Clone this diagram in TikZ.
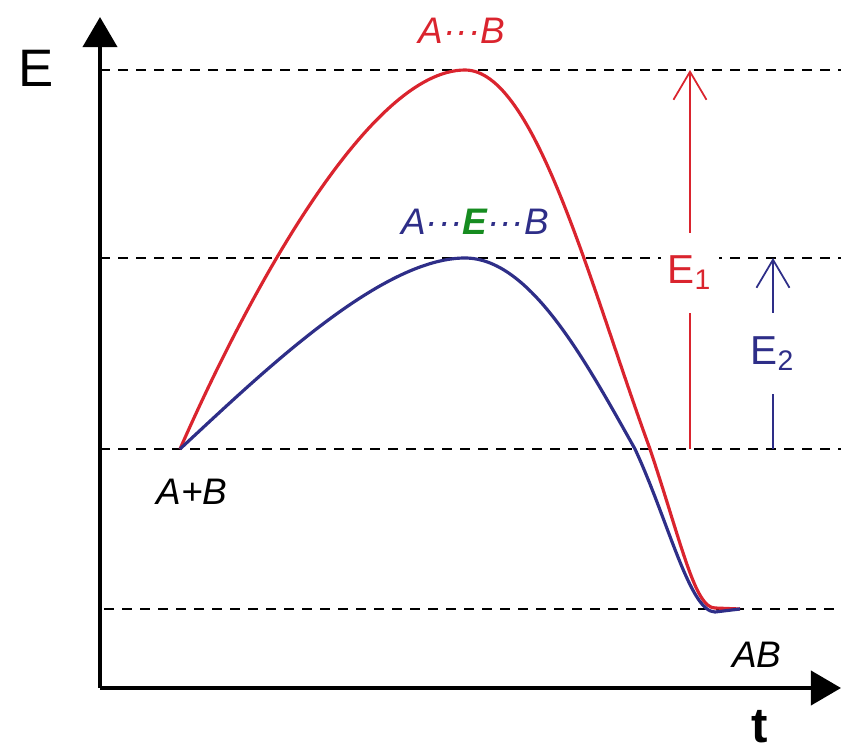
\documentclass[tikz,border=0pt]{standalone}
\usepackage{fontspec}
\setmainfont{Liberation Sans}
\usetikzlibrary{arrows.meta, positioning}
\definecolor{uncatred}{RGB}{218,36,46}
\definecolor{catblue}{RGB}{46,46,136}
\definecolor{catgreen}{RGB}{22,140,32}

\begin{document}
\begin{tikzpicture}[
        x=0.01cm, y=-0.01cm,
        axis/.style={line width=1.1pt, -{Triangle[length=0.3cm, width=0.34cm]}},
        level/.style={dash pattern=on 0.1cm off 0.08cm, line width=0.6pt},
        curve/.style={line width=0.9pt, line join=round},
        barrier/.style={-{Straight Barb[length=0.28cm, width=0.33cm]}, line width=0.5pt},
        species/.style={font=\fontsize{10.5}{12}\selectfont\itshape, inner sep=1pt},
        gaplabel/.style={fill=white, font=\fontsize{11.5}{13}\selectfont, inner xsep=2pt, inner ysep=0.23cm},
        axislabel/.style={font=\fontsize{15}{18}\selectfont, inner sep=1pt}
    ]
    \useasboundingbox (0,0) rectangle (841,751);

    % Axes
    \coordinate (origin) at (100,688);
    \coordinate (ytip) at (100,17);
    \coordinate (xtip) at (841,688);
    \draw[axis] (origin) -- (ytip);
    \draw[axis] (origin) -- (xtip);
    \node[axislabel] (elabel) at (36,68) {E};
    \node[axislabel, font=\fontsize{14}{16}\selectfont\bfseries] (tlabel) at (760,727) {t};

    % Energy levels
    \coordinate (peakAL) at (100,70);   \coordinate (peakAR) at (841,70);
    \coordinate (peakBL) at (100,258);  \coordinate (peakBR) at (841,258);
    \coordinate (startL) at (100,449);  \coordinate (startR) at (841,449);
    \coordinate (endL) at (104,609);    \coordinate (endR) at (841,609);
    \draw[level] (peakAL) -- (peakAR);
    \draw[level] (peakBL) -- (peakBR);
    \draw[level] (startL) -- (startR);
    \draw[level] (endL) -- (endR);

    % Reaction paths
    \coordinate (react) at (180,449);
    \coordinate (peakA) at (465,70);
    \coordinate (peakB) at (465,258);
    \coordinate (prod) at (740,609);
    \draw[curve, uncatred] (react) .. controls (250,290) and (370,70) .. (peakA)
        .. controls (535,70) and (590,285) .. (650,449)
        .. controls (682,545) and (695,608) .. (715,608) -- (prod);
    \draw[curve, catblue] (react) .. controls (260,375) and (380,258) .. (peakB)
        .. controls (530,258) and (585,360) .. (635,449)
        .. controls (668,520) and (690,612) .. (715,612) -- (prod);

    % Species
    \node[species, uncatred] (tsA) at (462,31) {A···B};
    \node[species, catblue] (tsB) at (475,222) {A···{\color{catgreen}\bfseries E}···B};
    \node[species] (reactlabel) at (192,492) {A+B};
    \node[species] (prodlabel) at (757,655) {AB};

    % Activation energies
    \coordinate (e1base) at (690,449);
    \coordinate (e1tip) at (690,70);
    \coordinate (e2base) at (773,449);
    \coordinate (e2tip) at (773,258);
    \draw[barrier, uncatred] (e1base) -- node[gaplabel, pos=0.465, text=uncatred] (e1) {E\textsubscript{1}} (e1tip);
    \draw[barrier, catblue] (e2base) -- node[gaplabel, pos=0.5, text=catblue] (e2) {E\textsubscript{2}} (e2tip);

\end{tikzpicture}
\end{document}
